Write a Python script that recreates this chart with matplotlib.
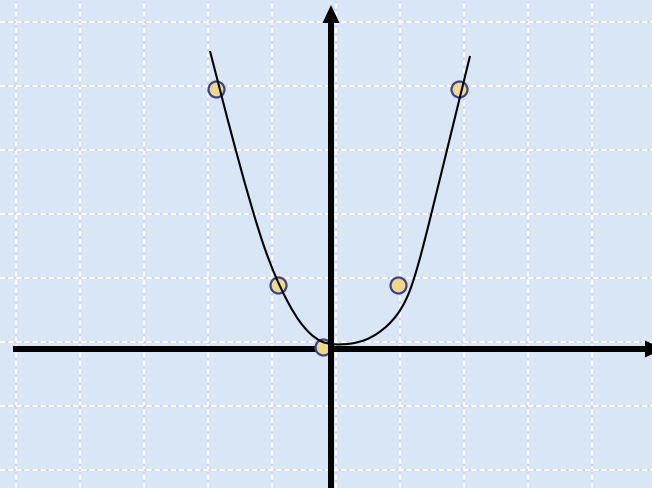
import numpy as np
import matplotlib
matplotlib.use("Agg")
import matplotlib.pyplot as plt
from matplotlib.path import Path
from matplotlib.patches import PathPatch

# table points (x, y)
pts_x = [-1.79, -0.83, -0.12, 1.05, 2.0]
pts_y = [4.07, 1.0, 0.03, 1.0, 4.06]

# traced curve
curve_x = [-1.891, -1.750, -1.492, -1.211, -1.038, -0.859, -0.656, -0.492,
           -0.331, -0.158, 0.031, 0.333, 0.552, 0.720, 0.883, 1.0375,
           1.159, 1.245, 1.345, 1.45, 1.567, 1.8125, 2.053, 2.172]
curve_y = [4.656, 4.109, 3.109, 2.109, 1.5625, 1.102, 0.6875, 0.422,
           0.234, 0.109, 0.0625, 0.078, 0.141, 0.234, 0.359, 0.531,
           0.734, 0.9375, 1.25, 1.641, 2.109, 3.109, 4.094, 4.578]

bg = "#d8e6f6"
px = 1 / 64  # one pixel in data units

fig = plt.figure(figsize=(6.52, 4.89), dpi=100)
ax = fig.add_axes([0, 0, 1, 1])
ax.set_facecolor(bg)
fig.patch.set_facecolor(bg)
ax.set_xlim(-331 * px, 321 * px)
ax.set_ylim(-139 * px, 350 * px)

# dashed grid, offset a few pixels from the axes
gx = np.arange(-5, 6) + 5 * px
gy = np.arange(-2, 6) + 7 * px
for v in gx:
    ax.axvline(v, color="#cdd2f3", lw=1.3, zorder=1)
    ax.axvline(v, color="white", lw=1.3, ls=(0, (3, 1.5)), zorder=1)
for h in gy:
    ax.axhline(h, color="#cdd2f3", lw=1.3, zorder=1)
    ax.axhline(h, color="white", lw=1.3, ls=(0, (3, 1.5)), zorder=1)

# axes with arrows
ax.arrow(-318 * px, 0, 650 * px, 0, width=6 * px, head_width=17 * px,
         head_length=18 * px, length_includes_head=True, fc="black",
         ec="black", lw=0, zorder=3, clip_on=True)
ax.arrow(0, -140 * px, 0, 484 * px, width=6 * px, head_width=17 * px,
         head_length=18 * px, length_includes_head=True, fc="black",
         ec="black", lw=0, zorder=5, clip_on=True)

# points
ax.plot(pts_x, pts_y, "o", ms=11.5, mfc="#f1d885", mec="#3c4192",
        mew=1.6, zorder=4)

# smooth curve: traced points used as a clamped cubic B-spline, drawn as Beziers
P = np.column_stack([curve_x, curve_y])
C = np.vstack([P[0], P[0], P, P[-1], P[-1]])
verts, codes = [], []
for i in range(1, len(C) - 2):
    b0 = (C[i - 1] + 4 * C[i] + C[i + 1]) / 6
    b1 = (2 * C[i] + C[i + 1]) / 3
    b2 = (C[i] + 2 * C[i + 1]) / 3
    b3 = (C[i] + 4 * C[i + 1] + C[i + 2]) / 6
    if not verts:
        verts.append(b0)
        codes.append(Path.MOVETO)
    verts += [b1, b2, b3]
    codes += [Path.CURVE4] * 3
ax.add_patch(PathPatch(Path(verts, codes), fc="none", ec="black",
                       lw=1.5, zorder=6))

ax.set_xticks([])
ax.set_yticks([])
for s in ax.spines.values():
    s.set_visible(False)

fig.savefig("out.png", dpi=100, facecolor=bg)
